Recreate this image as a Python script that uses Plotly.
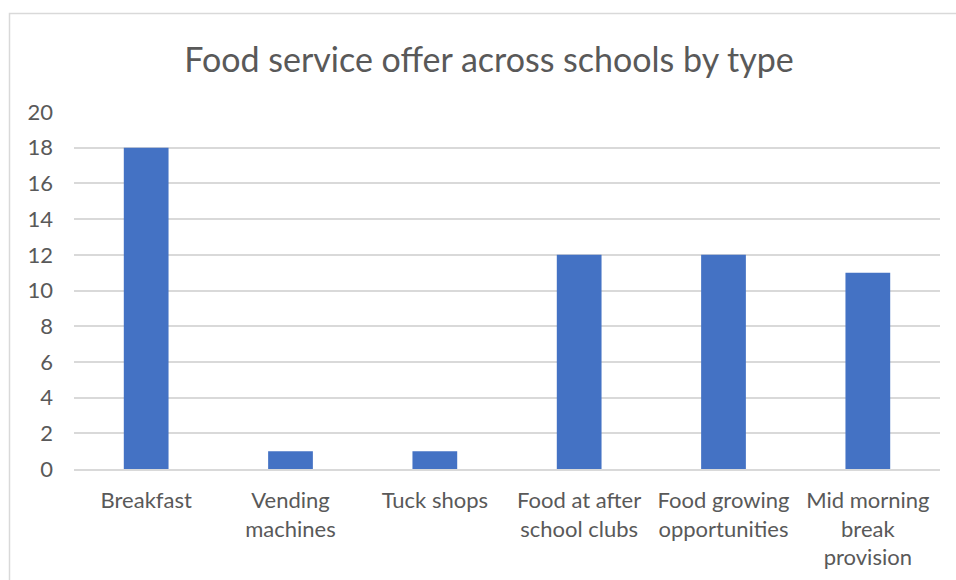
import plotly.graph_objects as go

# Food service offers counted across schools, by type
categories = [
    "Breakfast",
    "Vending<br>machines",
    "Tuck shops",
    "Food at after<br>school clubs",
    "Food growing<br>opportunities",
    "Mid morning<br>break<br>provision",
]
counts = [18, 1, 1, 12, 12, 11]
y_ticks = list(range(0, 21, 2))

W, H = 956, 580
L, R, T, B = 74, 16, 112, 111
plot_w = W - L - R
plot_h = H - T - B

fig = go.Figure(
    go.Bar(
        x=categories,
        y=counts,
        marker=dict(color="#4472C4", line=dict(width=0)),
        width=0.31,
        hoverinfo="x+y",
    )
)

text_color = "#595959"
font_family = "Lato, Open Sans, sans-serif"

fig.update_layout(
    width=W,
    height=H,
    margin=dict(l=L, r=R, t=T, b=B, autoexpand=False),
    paper_bgcolor="white",
    plot_bgcolor="white",
    showlegend=False,
    font=dict(family=font_family, color=text_color, size=22),
    title=dict(
        text="Food service offer across schools by type",
        x=489 / W,
        xanchor="center",
        xref="container",
        y=1 - 60 / H,
        yanchor="middle",
        yref="container",
        font=dict(size=34, color=text_color, family=font_family),
    ),
    xaxis=dict(
        showgrid=False,
        showline=True,
        linecolor="#D9D9D9",
        linewidth=1.5,
        ticks="",
        tickfont=dict(size=22, color=text_color),
        ticklabelstandoff=11,
    ),
    yaxis=dict(
        range=[0, 20],
        tickvals=y_ticks,
        showgrid=True,
        gridcolor="#D9D9D9",
        gridwidth=1.5,
        zeroline=False,
        showline=False,
        ticks="",
        tickfont=dict(size=22, color=text_color),
        ticklabelstandoff=20,
    ),
)

# Chart frame (left and top edges visible, extends past the canvas on the right/bottom)
x0 = (9.5 - L) / plot_w
y1 = (H - B - 13.5) / plot_h
fig.add_shape(
    type="rect",
    xref="paper",
    yref="paper",
    x0=x0,
    x1=(W + 20 - L) / plot_w,
    y0=-(B + 20) / plot_h,
    y1=y1,
    line=dict(color="#D9D9D9", width=1.5),
    fillcolor="rgba(0,0,0,0)",
    layer="below",
)

fig.write_html("out.html")
